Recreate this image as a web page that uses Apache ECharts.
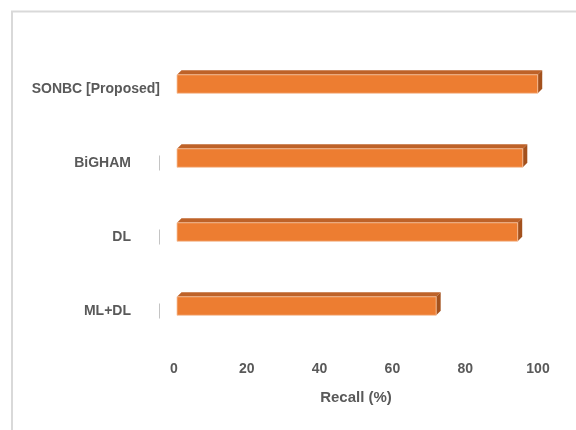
<!DOCTYPE html>
<html>
<head>
<meta charset="utf-8">
<script src="https://cdn.jsdelivr.net/npm/echarts@6/dist/echarts.min.js"></script>
<style>
  html, body { margin: 0; padding: 0; background: #ffffff; }
  #chart { width: 576px; height: 430px; }
</style>
</head>
<body>
<div id="chart"></div>
<script>
// Recall of each method, in percent
const methods = ['SONBC [Proposed]', 'BiGHAM', 'DL', 'ML+DL'];
const recall = [99.1, 95.0, 93.6, 71.2];
const xTicks = [0, 20, 40, 60, 80, 100];

const FONT = '"Liberation Sans", Arial, sans-serif';
const TEXT = '#595959';
const FRONT = '#ED7D31';
const TOP = '#BE6228';
const SIDE = '#A3511D';
const BAR_H = 18.5;
const DEPTH = 4.5;

const chart = echarts.init(document.getElementById('chart'), null, { renderer: 'canvas' });

// Bar drawn as a box: front face, top face and right side face
function renderBox(params, api) {
  const v = api.value(0);
  const cat = api.value(1);
  const start = api.coord([0, cat]);
  const end = api.coord([v, cat]);
  const x0 = start[0], x1 = end[0];
  const y0 = start[1] - BAR_H / 2, y1 = start[1] + BAR_H / 2;
  const d = DEPTH;
  return {
    type: 'group',
    children: [
      { type: 'polygon',
        shape: { points: [[x0, y0], [x0 + d, y0 - d], [x1 + d, y0 - d], [x1, y0]] },
        style: { fill: TOP } },
      { type: 'polygon',
        shape: { points: [[x1, y0], [x1 + d, y0 - d], [x1 + d, y1 - d], [x1, y1]] },
        style: { fill: SIDE } },
      { type: 'rect',
        shape: { x: x0, y: y0, width: x1 - x0, height: BAR_H },
        style: { fill: FRONT, stroke: '#F6C3A0', lineWidth: 0.8 } }
    ]
  };
}

const option = {
  animation: false,
  backgroundColor: '#ffffff',
  graphic: [{
    type: 'rect',
    shape: { x: 12, y: 11.5, width: 600, height: 500 },
    style: { fill: 'none', stroke: '#d9d9d9', lineWidth: 2 },
    silent: true
  }],
  grid: { left: 177, right: 35, top: 47, bottom: 87 },
  xAxis: {
    type: 'value',
    min: 0, max: 100, interval: 20,
    axisLine: { show: false },
    axisTick: { show: false },
    splitLine: { show: false },
    axisLabel: {
      formatter: v => xTicks.includes(v) ? String(v) : '',
      color: TEXT, fontFamily: FONT, fontWeight: 'bold', fontSize: 14,
      margin: 19, padding: [0, 6, 0, 0]
    },
    name: 'Recall (%)',
    nameLocation: 'middle',
    nameGap: 47,
    nameTextStyle: {
      color: TEXT, fontFamily: FONT, fontWeight: 'bold', fontSize: 15,
      padding: [0, 6, 0, 0]
    }
  },
  yAxis: {
    type: 'category',
    data: methods,
    inverse: true,
    axisLine: { show: false },
    axisTick: { show: false },
    splitLine: { show: false },
    axisLabel: {
      margin: 17,
      padding: [10, 0, 0, 0],
      formatter: (name, idx) => idx === 0 ? '{n|' + name + '}' : '{n|' + name + '}{g|}{t|}',
      rich: {
        n: { color: TEXT, fontFamily: FONT, fontWeight: 'bold', fontSize: 14 },
        g: { width: 28, height: 15 },
        t: { width: 1, height: 15, backgroundColor: '#c4c4c4' }
      }
    }
  },
  series: [{
    type: 'custom',
    renderItem: renderBox,
    encode: { x: 0, y: 1 },
    data: recall.map((v, i) => [v, i])
  }]
};

chart.setOption(option);
</script>
</body>
</html>
